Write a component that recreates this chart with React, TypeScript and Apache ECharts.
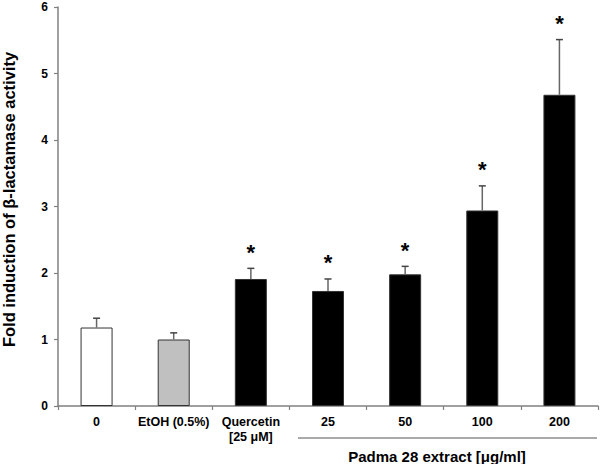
import React, { useEffect, useRef } from "react";
import * as echarts from "echarts";

const categories = ["0", "EtOH (0.5%)", "Quercetin\n[25 μM]", "25", "50", "100", "200"];
const means = [1.18, 1.0, 1.91, 1.73, 1.98, 2.94, 4.68];
const errUpper = [1.32, 1.1, 2.07, 1.91, 2.1, 3.31, 5.51];
const significant = [false, false, true, true, true, true, true];
const barColors = ["#ffffff", "#c0c0c0", "#000000", "#000000", "#000000", "#000000", "#000000"];
const yTicks = [0, 1, 2, 3, 4, 5, 6];
const groupLabel = "Padma 28 extract [μg/ml]";
const yName = "Fold induction of β-lactamase activity";

export default function App() {
  const ref = useRef<HTMLDivElement>(null);
  useEffect(() => {
    if (!ref.current) return;
    const chart = echarts.init(ref.current, undefined, { renderer: "svg" });
    const font = "Arial, 'Liberation Sans', sans-serif";
    const option: any = {
      animation: false,
      grid: { left: 58, right: 2, top: 7, bottom: 58, outerBoundsMode: "none", containLabel: false },
      xAxis: {
        type: "category",
        data: categories,
        axisLine: { lineStyle: { color: "#808080", width: 1.5 } },
        axisTick: { show: true, length: 4, lineStyle: { color: "#808080", width: 1.2 } },
        axisLabel: {
          color: "#000",
          fontWeight: "bold",
          fontFamily: font,
          fontSize: 12.5,
          margin: 8,
          lineHeight: 15,
          interval: 0,
        },
      },
      yAxis: {
        type: "value",
        min: yTicks[0],
        max: yTicks[yTicks.length - 1],
        interval: 1,
        name: yName,
        nameLocation: "middle",
        nameGap: 41,
        nameRotate: 90,
        nameTextStyle: {
          color: "#000",
          fontWeight: "bold",
          fontFamily: font,
          fontSize: 16.5,
          padding: [0, 0, 0, 14],
        },
        axisLine: { show: true, lineStyle: { color: "#808080", width: 1.5 } },
        axisTick: { show: true, length: 4, lineStyle: { color: "#808080", width: 1.2 } },
        axisLabel: { color: "#000", fontWeight: "bold", fontFamily: font, fontSize: 12, margin: 10 },
        splitLine: { show: false },
      },
      series: [
        {
          type: "bar",
          barWidth: 32,
          data: means.map((v, i) => ({
            value: v,
            itemStyle: { color: barColors[i], borderColor: "#333", borderWidth: 1 },
          })),
          z: 2,
        },
        {
          type: "custom",
          data: means.map((v, i) => [i, v, errUpper[i]]),
          z: 3,
          renderItem: (params: any, api: any) => {
            const i = api.value(0);
            const base = api.coord([i, api.value(1)]);
            const top = api.coord([i, api.value(2)]);
            const children: any[] = [
              {
                type: "line",
                shape: { x1: base[0], y1: base[1], x2: top[0], y2: top[1] },
                style: { stroke: "#666", lineWidth: 1.5 },
              },
              {
                type: "line",
                shape: { x1: top[0] - 3.5, y1: top[1], x2: top[0] + 3.5, y2: top[1] },
                style: { stroke: "#444", lineWidth: 1.5 },
              },
            ];
            if (significant[i]) {
              children.push({
                type: "text",
                x: top[0],
                y: top[1] - 16,
                style: {
                  text: "*",
                  fontSize: 22,
                  fontWeight: "bold",
                  fontFamily: font,
                  fill: "#000",
                  align: "center",
                  verticalAlign: "middle",
                },
              });
            }
            return { type: "group", children };
          },
        },
      ],
      graphic: [
        {
          type: "line",
          shape: { x1: 298, y1: 438, x2: 597, y2: 438 },
          style: { stroke: "#555", lineWidth: 1.2 },
        },
        {
          type: "text",
          x: 437,
          y: 456,
          style: {
            text: groupLabel,
            fontSize: 15,
            fontWeight: "bold",
            fontFamily: font,
            fill: "#000",
            align: "center",
            verticalAlign: "middle",
          },
        },
      ],
    };
    chart.setOption(option);
    return () => chart.dispose();
  }, []);
  return <div ref={ref} style={{ width: 600, height: 464, position: "absolute", left: 0, top: 0 }} />;
}
